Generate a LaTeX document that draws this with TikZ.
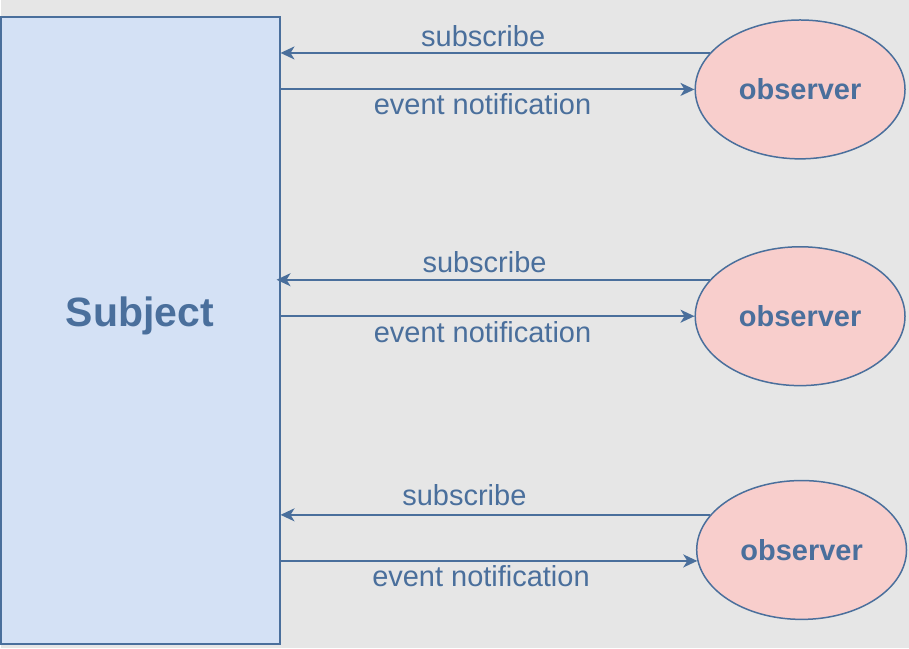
\documentclass[tikz,border=0pt]{standalone}
\usepackage{fontspec}
\setmainfont{Liberation Sans}
\usetikzlibrary{calc, arrows.meta, shapes.geometric}
\definecolor{bggray}{HTML}{E6E6E6}
\definecolor{subjfill}{HTML}{D4E1F5}
\definecolor{obsfill}{HTML}{F8CECC}
\definecolor{linkblue}{HTML}{4A6F9C}
\tikzset{>={Stealth[length=14pt,width=13pt,inset=4pt]}}
\tikzset{
  subjbox/.style={draw=linkblue, fill=subjfill, line width=1.8pt, inner sep=0pt,
    minimum width=279pt, minimum height=628pt, text=linkblue,
    font=\fontsize{41}{48}\selectfont\bfseries},
  obsnode/.style={ellipse, draw=linkblue, fill=obsfill, line width=1.5pt, inner sep=0pt,
    minimum width=210pt, minimum height=139pt, text=linkblue,
    font=\fontsize{29}{34}\selectfont\bfseries},
  link/.style={->, draw=linkblue, line width=1.9pt},
  msg/.style={text=linkblue, inner sep=0pt, font=\fontsize{29}{34}\selectfont}
}

\begin{document}
\begin{tikzpicture}[x=1pt, y=-1pt]
\fill[bggray] (0,0) rectangle (909,649);
\node[subjbox] (subj) at (139.5,331) {};
\node[text=linkblue, font=\fontsize{41}{48}\selectfont\bfseries] (subjlabel) at (139,316) {Subject};
\node[obsnode] (obs1) at (800,89.5) {observer};
\node[obsnode] (obs2) at (800,316.5) {observer};
\node[obsnode] (obs3) at (801.5,550.5) {observer};
% subscribe / event notification pairs
\draw[link] (obs1.158) -- (obs1.158 -| subj.east)
  node[msg, pos=0.528, yshift=17pt] (sub1) {subscribe};
\draw[link] (subj.east |- obs1.west) -- (obs1.west)
  node[msg, pos=0.488, yshift=-15pt] (evt1) {event notification};
\draw[link] (obs2.158) -- ([xshift=-4pt]obs2.158 -| subj.east)
  node[msg, pos=0.52, yshift=18pt] (sub2) {subscribe};
\draw[link] (subj.east |- obs2.west) -- (obs2.west)
  node[msg, pos=0.488, yshift=-16pt] (evt2) {event notification};
\draw[link] (obs3.159) -- (obs3.159 -| subj.east)
  node[msg, pos=0.572, yshift=20pt] (sub3) {subscribe};
\draw[link] (subj.east |- obs3.186) -- (obs3.186)
  node[msg, pos=0.481, yshift=-15pt] (evt3) {event notification};
\end{tikzpicture}
\end{document}
